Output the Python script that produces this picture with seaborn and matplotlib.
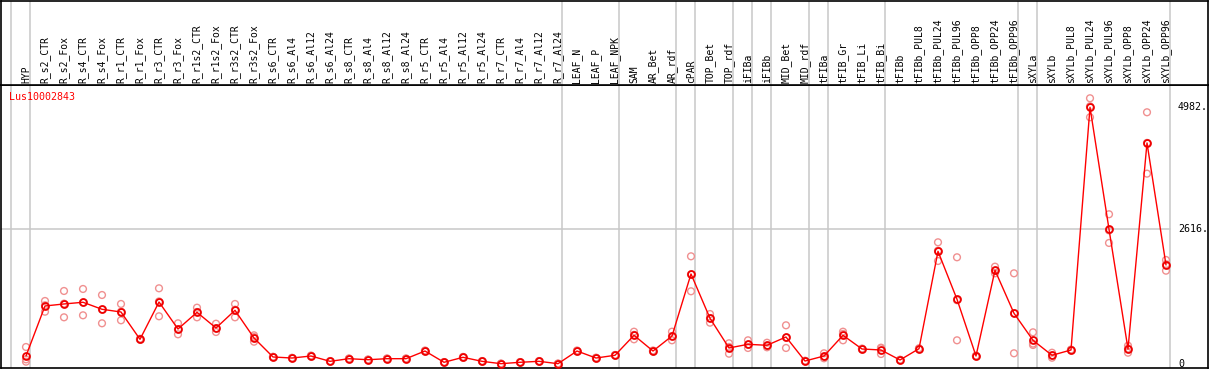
import numpy as np
import pandas as pd
import matplotlib
matplotlib.use("Agg")
import matplotlib.pyplot as plt
import matplotlib.transforms as mtransforms
import seaborn as sns

# ---------------- data ----------------
gene = "Lus10002843"
labels = ["HYP", "R_s2_CTR", "R_s2_Fox", "R_s4_CTR", "R_s4_Fox", "R_r1_CTR", "R_r1_Fox",
          "R_r3_CTR", "R_r3_Fox", "R_r1s2_CTR", "R_r1s2_Fox", "R_r3s2_CTR", "R_r3s2_Fox",
          "R_s6_CTR", "R_s6_Al4", "R_s6_Al12", "R_s6_Al24", "R_s8_CTR", "R_s8_Al4",
          "R_s8_Al12", "R_s8_Al24", "R_r5_CTR", "R_r5_Al4", "R_r5_Al12", "R_r5_Al24",
          "R_r7_CTR", "R_r7_Al4", "R_r7_Al12", "R_r7_Al24", "LEAF_N", "LEAF_P", "LEAF_NPK",
          "SAM", "AR_Bet", "AR_rdf", "cPAR", "TOP_Bet", "TOP_rdf", "iFIBa", "iFIBb",
          "MID_Bet", "MID_rdf", "tFIBa", "tFIB_Gr", "tFIB_Li", "tFIB_Bi", "tFIBb",
          "tFIBb_PUL8", "tFIBb_PUL24", "tFIBb_PUL96", "tFIBb_OPP8", "tFIBb_OPP24",
          "tFIBb_OPP96", "sXYLa", "sXYLb", "sXYLb_PUL8", "sXYLb_PUL24", "sXYLb_PUL96",
          "sXYLb_OPP8", "sXYLb_OPP24", "sXYLb_OPP96"]

means = [155, 1126, 1165, 1198, 1062, 1009, 479, 1203, 679, 1003, 699, 1042, 505,
         136, 116, 155, 52, 103, 83, 103, 103, 252, 33, 130, 52, 6, 33, 52, 6,
         252, 116, 169, 557, 252, 543, 1747, 887, 311, 382, 363, 524, 58,
         155, 557, 291, 272, 78, 297, 2187, 1256, 155, 1819, 984,
         460, 169, 272, 4982, 2616, 291, 4290, 1922]

rep1 = [330, 1223, 1417, 1456, 1339, 1165, 490, 1469, 790, 1093, 782, 1165, 557,
        140, 120, 165, 58, 108, 88, 108, 108, 262, 38, 138, 58, 9, 38, 58, 9,
        262, 124, 176, 627, 262, 627, 2090, 970, 402, 460, 413, 751, 64,
        208, 627, 300, 317, 84, 305, 2362, 2071, 162, 1889, 1760,
        615, 219, 280, 5157, 2906, 355, 4885, 2019]
rep2 = [90, 1015, 906, 945, 790, 848, 472, 926, 576, 906, 621, 906, 433,
        130, 110, 145, 46, 98, 78, 98, 98, 242, 28, 122, 46, 3, 28, 46, 3,
        242, 108, 162, 479, 242, 460, 1411, 802, 200, 311, 324, 311, 52,
        111, 460, 282, 194, 72, 289, 1999, 460, 148, 1760, 208,
        369, 122, 264, 4788, 2349, 219, 3694, 1811]
rep3 = [45, 1140, 1172, 1193, 1057, 1014, 475, 1214, 671, 1010, 694, 1055, 525,
        138, 118, 155, 52, 103, 83, 103, 103, 252, 33, 130, 52, 6, 33, 52, 6,
        252, 116, 169, 565, 252, 542, 1740, 889, 331, 375, 352, 510, 58,
        146, 584, 291, 305, 78, 297, 2200, 1237, 155, 1808, 984,
        396, 166, 272, 5001, 2593, 299, 4291, 1936]

# last sample index of each group (group separators drawn after these)
group_ends = [-1, 0, 28, 31, 34, 35, 37, 38, 39, 41, 42, 45, 52, 53, 60]
tick_values = [4982, 2616, 0]
tick_texts = ["4982.", "2616.", "0"]

# ---------------- figure ----------------
W, H = 1209, 370
sns.set_style("white")
plt.rcParams["font.family"] = ["DejaVu Sans Mono", "DejaVu Sans"]

fig = plt.figure(figsize=(W / 100, H / 100), dpi=100)

frame_l, frame_r = 0.5, 1207.5
plot_top, plot_bot = 85, 368
ax = fig.add_axes([frame_l / W, (H - plot_bot) / H, (frame_r - frame_l) / W,
                   (plot_bot - plot_top) / H])
lab_ax = fig.add_axes([frame_l / W, (H - plot_top) / H, (frame_r - frame_l) / W,
                       (plot_top - 0.5) / H])

x0_px, dx_px = 26.0, 19.0
xlim = ((frame_l - x0_px) / dx_px, (frame_r - x0_px) / dx_px)
y0_px, px_per_unit = 364.0, 0.05153
ylim = (-(plot_bot - y0_px) / px_per_unit, (y0_px - plot_top) / px_per_unit)

idx = np.arange(len(labels))
df_mean = pd.DataFrame({"x": idx, "value": means})
df_rep = pd.DataFrame({
    "x": np.concatenate([idx, idx, idx]),
    "value": np.concatenate([rep1, rep2, rep3]),
})

grid_col = "#c8c8c8"
for a in (ax, lab_ax):
    a.set_xlim(*xlim)
    for g in group_ends:
        a.axvline(g + 0.227, color=grid_col, lw=1.1, zorder=0)
    for s in a.spines.values():
        s.set_color("black")
        s.set_linewidth(1.2)
    a.set_xticks([])
    a.set_yticks([])
    a.set_facecolor("white")

ax.set_ylim(*ylim)
last_sep = (group_ends[-1] + 0.227)
ax.plot([xlim[0], last_sep], [2616, 2616], color=grid_col, lw=1.1, zorder=0)

sns.scatterplot(data=df_rep, x="x", y="value", ax=ax, marker="o", s=24,
                facecolors="none", edgecolors="#f09090", linewidths=1.0,
                legend=False, zorder=2)
sns.lineplot(data=df_mean, x="x", y="value", ax=ax, color="#ff0000", lw=1.0,
             marker="o", markersize=5.0, markerfacecolor="none",
             markeredgecolor="#ee0000", markeredgewidth=1.3, sort=False,
             legend=False, zorder=3)
ax.set_xlabel("")
ax.set_ylabel("")

# y value labels on right
trans = mtransforms.blended_transform_factory(ax.transAxes, ax.transData)
for v, t in zip(tick_values, tick_texts):
    ax.text((1178 - frame_l) / (frame_r - frame_l), v, t, transform=trans,
            ha="left", va="center", fontsize=7.2, color="black")

ax.text((9.5 - frame_l) / (frame_r - frame_l), (plot_bot - 97) / (plot_bot - plot_top),
        gene, transform=ax.transAxes, ha="left", va="center", fontsize=7.2,
        color="#ff0000")

# sample labels in the header strip
lab_ax.set_ylim(0, 1)
ltrans = mtransforms.blended_transform_factory(lab_ax.transData, lab_ax.transAxes)
for i, lab in enumerate(labels):
    lab_ax.text(i, 2.0 / (plot_top - 0.5), lab, transform=ltrans, rotation=90,
                ha="center", va="bottom", fontsize=7.0, color="black")

fig.savefig("out.png", dpi=100)
